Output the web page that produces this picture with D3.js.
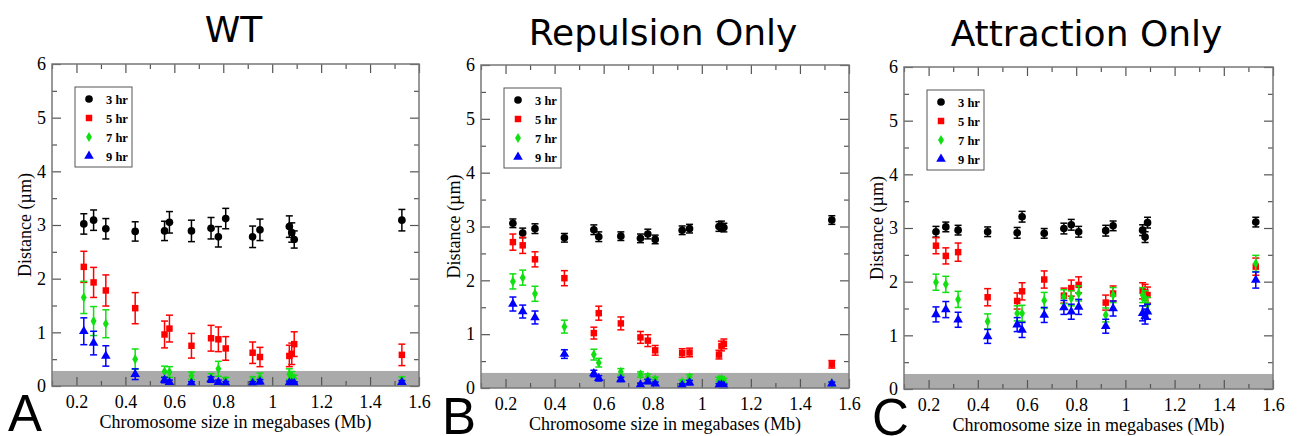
<!DOCTYPE html>
<html>
<head>
<meta charset="utf-8">
<script src="https://cdn.jsdelivr.net/npm/d3@7"></script>
<style>
  body { margin: 0; background: #fff; }
  svg { display: block; }
  .serif { font-family: "Liberation Serif", "Times New Roman", Times, serif; }
</style>
</head>
<body>
<script>
// chromosome sizes (Mb) - same for every series
const sizesMb = [0.23, 0.27, 0.32, 0.44, 0.56, 0.58, 0.67, 0.75, 0.78, 0.81, 0.92, 0.95, 1.07, 1.08, 1.09, 1.53];
const timeLabels = ['3 hr', '5 hr', '7 hr', '9 hr'];
const panelTitles = ['WT', 'Repulsion Only', 'Attraction Only'];
const panelLetters = ['A', 'B', 'C'];
const xMajor = [0.2, 0.4, 0.6, 0.8, 1.0, 1.2, 1.4, 1.6];
const yMajor = [0, 1, 2, 3, 4, 5, 6];
const noiseFloor = 0.28;

// WT
const wt3 = [3.02, 3.09, 2.93, 2.88, 2.89, 3.05, 2.89, 2.94, 2.78, 3.12, 2.78, 2.91, 2.97, 2.86, 2.73, 3.09];
const wt3Err = [0.19, 0.19, 0.19, 0.18, 0.18, 0.2, 0.2, 0.2, 0.19, 0.19, 0.2, 0.2, 0.2, 0.18, 0.16, 0.2];
const wt5 = [2.22, 1.93, 1.78, 1.45, 0.96, 1.07, 0.75, 0.89, 0.87, 0.70, 0.62, 0.54, 0.56, 0.60, 0.78, 0.58];
const wt5Err = [0.29, 0.28, 0.29, 0.29, 0.25, 0.25, 0.23, 0.24, 0.23, 0.22, 0.2, 0.18, 0.2, 0.2, 0.23, 0.2];
const wt7 = [1.65, 1.21, 1.16, 0.50, 0.27, 0.26, 0.19, 0.16, 0.32, 0.10, 0.11, 0.16, 0.22, 0.19, 0.14, 0.11];
const wt7Err = [0.3, 0.27, 0.26, 0.19, 0.1, 0.1, 0.07, 0.07, 0.14, 0.06, 0.06, 0.08, 0.1, 0.08, 0.06, 0.06];
const wt9 = [1.02, 0.80, 0.56, 0.22, 0.11, 0.07, 0.05, 0.12, 0.07, 0.05, 0.05, 0.08, 0.06, 0.05, 0.05, 0.07];
const wt9Err = [0.25, 0.22, 0.19, 0.1, 0.05, 0.04, 0.03, 0.05, 0.04, 0.03, 0.03, 0.04, 0.03, 0.03, 0.03, 0.03];

// Repulsion only
const rep3 = [3.06, 2.88, 2.96, 2.79, 2.94, 2.81, 2.82, 2.78, 2.86, 2.76, 2.93, 2.96, 3.00, 3.01, 2.98, 3.12];
const rep3Err = [0.08, 0.09, 0.09, 0.08, 0.09, 0.09, 0.08, 0.08, 0.09, 0.08, 0.08, 0.08, 0.09, 0.09, 0.08, 0.08];
const rep5 = [2.71, 2.65, 2.39, 2.04, 1.02, 1.39, 1.20, 0.94, 0.88, 0.70, 0.65, 0.66, 0.62, 0.78, 0.82, 0.44];
const rep5Err = [0.15, 0.15, 0.14, 0.14, 0.11, 0.13, 0.12, 0.11, 0.11, 0.09, 0.08, 0.08, 0.08, 0.09, 0.09, 0.07];
const rep7 = [1.98, 2.05, 1.75, 1.14, 0.62, 0.47, 0.30, 0.25, 0.21, 0.16, 0.11, 0.20, 0.16, 0.17, 0.14, 0.08];
const rep7Err = [0.14, 0.14, 0.14, 0.12, 0.1, 0.08, 0.06, 0.05, 0.05, 0.04, 0.04, 0.05, 0.04, 0.04, 0.04, 0.03];
const rep9 = [1.56, 1.42, 1.31, 0.63, 0.27, 0.18, 0.16, 0.06, 0.12, 0.08, 0.05, 0.10, 0.05, 0.06, 0.04, 0.08];
const rep9Err = [0.13, 0.12, 0.12, 0.08, 0.06, 0.05, 0.04, 0.03, 0.04, 0.03, 0.03, 0.04, 0.03, 0.03, 0.03, 0.03];

// Attraction only
const att3 = [2.93, 3.02, 2.96, 2.93, 2.91, 3.21, 2.90, 2.99, 3.06, 2.93, 2.95, 3.04, 2.96, 2.83, 3.10, 3.11];
const att3Err = [0.1, 0.09, 0.09, 0.09, 0.1, 0.1, 0.09, 0.1, 0.1, 0.1, 0.1, 0.09, 0.1, 0.1, 0.1, 0.09];
const att5 = [2.67, 2.48, 2.55, 1.71, 1.64, 1.82, 2.04, 1.74, 1.88, 1.94, 1.61, 1.78, 1.83, 1.80, 1.75, 2.28];
const att5Err = [0.15, 0.15, 0.17, 0.16, 0.15, 0.16, 0.16, 0.14, 0.15, 0.15, 0.14, 0.14, 0.15, 0.15, 0.15, 0.16];
const att7 = [1.99, 1.95, 1.67, 1.26, 1.41, 1.41, 1.65, 1.72, 1.69, 1.78, 1.38, 1.75, 1.75, 1.69, 1.57, 2.34];
const att7Err = [0.15, 0.15, 0.15, 0.14, 0.14, 0.15, 0.15, 0.13, 0.14, 0.14, 0.13, 0.14, 0.14, 0.14, 0.14, 0.15];
const att9 = [1.39, 1.48, 1.29, 0.98, 1.20, 1.10, 1.38, 1.52, 1.44, 1.53, 1.17, 1.50, 1.41, 1.35, 1.44, 2.03];
const att9Err = [0.14, 0.15, 0.14, 0.13, 0.13, 0.14, 0.14, 0.13, 0.14, 0.14, 0.13, 0.14, 0.14, 0.14, 0.14, 0.15];

const colors = ['#000000', '#ff0000', '#10e010', '#0000ff'];
const shapes = [d3.symbolCircle, d3.symbolSquare, d3.symbolDiamond, d3.symbolTriangle];
const shapeSizes = [46, 42, 30, 40];

const panels = [
    { l: 52, r: 419, t: 64, b: 386, titleY: 42, letterX: 8, letterY: 431,
      vals: [wt3, wt5, wt7, wt9], errs: [wt3Err, wt5Err, wt7Err, wt9Err] },
    { l: 481, r: 849, t: 65, b: 388, titleY: 45, letterX: 442, letterY: 434,
      vals: [rep3, rep5, rep7, rep9], errs: [rep3Err, rep5Err, rep7Err, rep9Err] },
    { l: 904, r: 1273, t: 67, b: 389, titleY: 46, letterX: 872, letterY: 435,
      vals: [att3, att5, att7, att9], errs: [att3Err, att5Err, att7Err, att9Err] }
];

const svg = d3.select('body').append('svg')
    .attr('width', 1302)
    .attr('height', 436);

const fmt = d => String(+d.toFixed(1));

function drawPanel(p, k) {
    const x = d3.scaleLinear().domain([0.1, 1.6]).range([p.l, p.r]);
    const y = d3.scaleLinear().domain([0, 6]).range([p.b, p.t]);
    const xMinor = d3.range(1, 17).map(i => i / 10).filter(v => Math.round(v * 10) % 2 === 1);
    const yMinor = d3.range(0, 6).map(i => i + 0.5);

    const g = svg.append('g');

    // grey band near zero
    g.append('rect')
        .attr('x', x(0.1))
        .attr('y', y(noiseFloor))
        .attr('width', x(1.6) - x(0.1))
        .attr('height', y(0) - y(noiseFloor))
        .attr('fill', '#aaaaaa');

    // axes: ticks on all four sides, pointing inwards
    const axes = [
        g.append('g').attr('transform', `translate(0,${p.b})`)
            .call(d3.axisBottom(x).tickValues(xMajor).tickSize(-9).tickPadding(9).tickFormat(fmt)),
        g.append('g').attr('transform', `translate(0,${p.b})`)
            .call(d3.axisBottom(x).tickValues(xMinor).tickSize(-5).tickFormat('')),
        g.append('g').attr('transform', `translate(0,${p.t})`)
            .call(d3.axisTop(x).tickValues(xMajor).tickSize(-9).tickFormat('')),
        g.append('g').attr('transform', `translate(0,${p.t})`)
            .call(d3.axisTop(x).tickValues(xMinor).tickSize(-5).tickFormat('')),
        g.append('g').attr('transform', `translate(${p.l},0)`)
            .call(d3.axisLeft(y).tickValues(yMajor).tickSize(-9).tickPadding(6).tickFormat(d3.format('d'))),
        g.append('g').attr('transform', `translate(${p.l},0)`)
            .call(d3.axisLeft(y).tickValues(yMinor).tickSize(-5).tickFormat('')),
        g.append('g').attr('transform', `translate(${p.r},0)`)
            .call(d3.axisRight(y).tickValues(yMajor).tickSize(-9).tickFormat('')),
        g.append('g').attr('transform', `translate(${p.r},0)`)
            .call(d3.axisRight(y).tickValues(yMinor).tickSize(-5).tickFormat(''))
    ];
    axes.forEach(a => {
        a.attr('font-family', null).attr('font-size', null);
        a.select('.domain').remove();
        a.selectAll('line').attr('stroke', '#555').attr('stroke-width', 1.2);
        a.selectAll('text')
            .attr('class', 'serif')
            .attr('fill', '#000')
            .style('font-size', '18px');
    });

    // error bars + markers, one series at a time (later series on top)
    p.vals.forEach((vals, s) => {
        const errs = p.errs[s];
        const pts = sizesMb.map((m, i) => ({ m: m, v: vals[i], e: errs[i] }));
        const sg = g.append('g');

        const bars = sg.selectAll('g.bar').data(pts).enter().append('g')
            .attr('stroke', colors[s])
            .attr('stroke-width', 1.5);
        bars.append('line')
            .attr('x1', d => x(d.m)).attr('x2', d => x(d.m))
            .attr('y1', d => y(Math.max(0, d.v - d.e))).attr('y2', d => y(d.v + d.e));
        bars.append('line')
            .attr('x1', d => x(d.m) - 3.5).attr('x2', d => x(d.m) + 3.5)
            .attr('y1', d => y(d.v + d.e)).attr('y2', d => y(d.v + d.e));
        bars.append('line')
            .attr('x1', d => x(d.m) - 3.5).attr('x2', d => x(d.m) + 3.5)
            .attr('y1', d => y(Math.max(0, d.v - d.e))).attr('y2', d => y(Math.max(0, d.v - d.e)));

        sg.selectAll('path.pt').data(pts).enter().append('path')
            .attr('class', 'pt')
            .attr('d', d3.symbol().type(shapes[s]).size(shapeSizes[s]))
            .attr('transform', d => `translate(${x(d.m)},${y(d.v)})`)
            .attr('fill', colors[s]);
    });

    // frame
    g.append('rect')
        .attr('x', p.l).attr('y', p.t)
        .attr('width', p.r - p.l).attr('height', p.b - p.t)
        .attr('fill', 'none')
        .attr('stroke', '#777')
        .attr('stroke-width', 1.5);

    // legend
    const lx = p.l + 23, ly = p.t + 23;
    const leg = g.append('g').attr('transform', `translate(${lx},${ly})`);
    leg.append('rect')
        .attr('width', 57).attr('height', 80)
        .attr('fill', '#fff')
        .attr('stroke', '#555')
        .attr('stroke-width', 1);
    timeLabels.forEach((lab, s) => {
        leg.append('path')
            .attr('d', d3.symbol().type(shapes[s]).size(shapeSizes[s]))
            .attr('transform', `translate(14,${12 + s * 19})`)
            .attr('fill', colors[s]);
        leg.append('text')
            .attr('class', 'serif')
            .attr('x', 31).attr('y', 16.5 + s * 19)
            .style('font-weight', 'bold')
            .style('font-size', '12.5px')
            .text(lab);
    });

    // titles and labels
    g.append('text')
        .attr('x', (p.l + p.r) / 2 - 2).attr('y', p.titleY)
        .attr('text-anchor', 'middle')
        .style('font-family', "'DejaVu Sans', Verdana, sans-serif")
        .style('font-size', '36px')
        .text(panelTitles[k]);

    g.append('text')
        .attr('class', 'serif')
        .attr('x', (p.l + p.r) / 2).attr('y', p.b + 42)
        .attr('text-anchor', 'middle')
        .style('font-size', '18px')
        .text('Chromosome size in megabases (Mb)');

    g.append('text')
        .attr('class', 'serif')
        .attr('transform', `translate(${p.l - 21},${(p.t + p.b) / 2}) rotate(-90)`)
        .attr('text-anchor', 'middle')
        .style('font-size', '18px')
        .text('Distance (\u00b5m)');

    g.append('text')
        .attr('x', p.letterX).attr('y', p.letterY)
        .style('font-family', "'Liberation Sans', Arial, sans-serif")
        .style('font-size', '51px')
        .text(panelLetters[k]);
}

panels.forEach(drawPanel);
</script>
</body>
</html>
